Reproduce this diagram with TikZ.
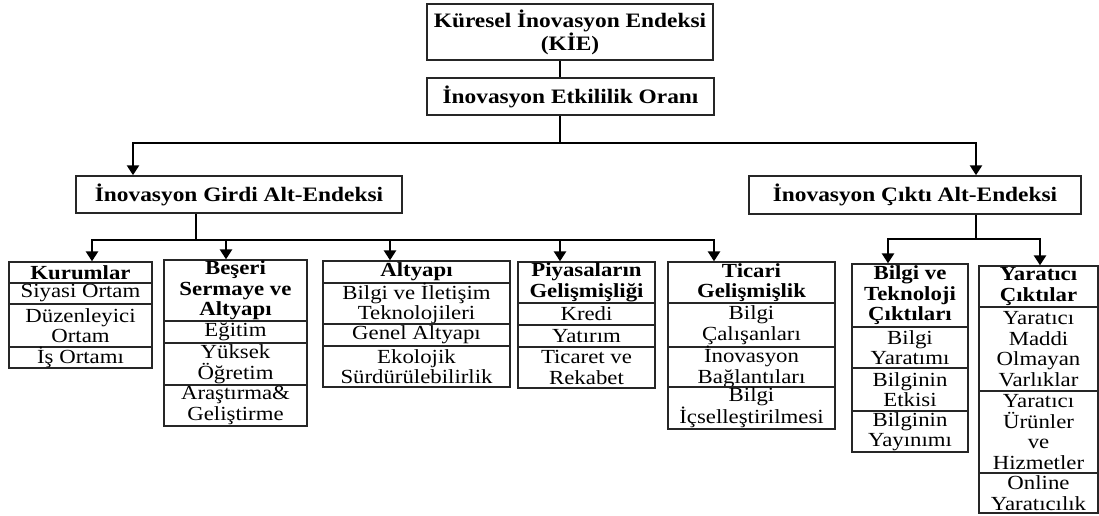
\documentclass[tikz,border=0pt]{standalone}
\usepackage{fontspec}
\setmainfont{Liberation Serif}[FakeStretch=1.14]
\usetikzlibrary{arrows.meta}
\begin{document}
\begin{tikzpicture}[x=1pt,y=-1pt,
  cell/.style={draw=black!85, line width=1.3pt, inner sep=0pt, align=center, font=\fontsize{20}{20.5}\selectfont},
  hcell/.style={cell, font=\fontsize{20}{20.5}\selectfont\bfseries},
  topbox/.style={draw=black!85, line width=1.5pt, inner sep=0pt, align=center, font=\fontsize{20.5}{23}\selectfont\bfseries},
  conn/.style={line width=2.6pt, line join=miter},
  tip/.style={-{Triangle[width=12pt,length=10pt]}},
  tips/.style={{Triangle[width=12pt,length=10pt]}-{Triangle[width=12pt,length=10pt]}}
]
\useasboundingbox[fill=white] (0,0) rectangle (1099,515);

% top nodes
\node[topbox, minimum width=286pt, minimum height=56pt] (kie) at (570,32) {Küresel İnovasyon Endeksi\\(KİE)};
\node[topbox, minimum width=287pt, minimum height=37pt] (oran) at (570.5,96.5) {İnovasyon Etkililik Oranı};
\node[topbox, minimum width=326pt, minimum height=37pt] (girdi) at (239,194.5) {İnovasyon Girdi Alt-Endeksi};
\node[topbox, minimum width=332pt, minimum height=38pt] (cikti) at (915,195) {İnovasyon Çıktı Alt-Endeksi};

% Kurumlar
\node[hcell, minimum width=143pt, minimum height=21pt] (k0) at (80.5,272.5) {Kurumlar};
\node[cell, minimum width=143pt, minimum height=21pt] (k1) at (80.5,293.5) {Siyasi Ortam};
\node[cell, minimum width=143pt, minimum height=43pt] (k2) at (80.5,325.5) {Düzenleyici\\Ortam};
\node[cell, minimum width=143pt, minimum height=21pt] (k3) at (80.5,357.5) {İş Ortamı};

% Beseri
\node[hcell, minimum width=143pt, minimum height=61pt] (b0) at (235.5,290.5) {Beşeri\\Sermaye ve\\Altyapı};
\node[cell, minimum width=143pt, minimum height=22pt] (b1) at (235.5,332) {Eğitim};
\node[cell, minimum width=143pt, minimum height=42pt] (b2) at (235.5,364) {Yüksek\\Öğretim};
\node[cell, minimum width=143pt, minimum height=41pt] (b3) at (235.5,405.5) {Araştırma\&\\Geliştirme};

% Altyapi
\node[hcell, minimum width=187pt, minimum height=22pt] (a0) at (416.5,272) {Altyapı};
\node[cell, minimum width=187pt, minimum height=41pt] (a1) at (416.5,303.5) {Bilgi ve İletişim\\Teknolojileri};
\node[cell, minimum width=187pt, minimum height=22pt] (a2) at (416.5,335) {Genel Altyapı};
\node[cell, minimum width=187pt, minimum height=41pt] (a3) at (416.5,366.5) {Ekolojik\\Sürdürülebilirlik};

% Piyasa
\node[hcell, minimum width=137pt, minimum height=41pt] (p0) at (586.5,282.5) {Piyasaların\\Gelişmişliği};
\node[cell, minimum width=137pt, minimum height=22pt] (p1) at (586.5,314) {Kredi};
\node[cell, minimum width=137pt, minimum height=22pt] (p2) at (586.5,336) {Yatırım};
\node[cell, minimum width=137pt, minimum height=41pt] (p3) at (586.5,367.5) {Ticaret ve\\Rekabet};

% Ticari
\node[hcell, minimum width=167pt, minimum height=41pt] (t0) at (751.5,282.5) {Ticari\\Gelişmişlik};
\node[cell, minimum width=167pt, minimum height=44pt] (t1) at (751.5,325) {Bilgi\\Çalışanları};
\node[cell, minimum width=167pt, minimum height=40pt] (t2) at (751.5,367) {İnovasyon\\Bağlantıları};
\node[cell, minimum width=167pt, minimum height=42pt] (t3) at (751.5,408) {Bilgi\\İçselleştirilmesi};

% Bilgi ve Teknoloji
\node[hcell, minimum width=116pt, minimum height=63pt] (g0) at (910,295.5) {Bilgi ve\\Teknoloji\\Çıktıları};
\node[cell, minimum width=116pt, minimum height=41pt] (g1) at (910,347.5) {Bilgi\\Yaratımı};
\node[cell, minimum width=116pt, minimum height=43pt] (g2) at (910,389.5) {Bilginin\\Etkisi};
\node[cell, minimum width=116pt, minimum height=41pt] (g3) at (910,431.5) {Bilginin\\Yayınımı};

% Yaratici
\node[hcell, minimum width=119pt, minimum height=41pt] (y0) at (1038.5,286.5) {Yaratıcı\\Çıktılar};
\node[cell, minimum width=119pt, minimum height=84pt] (y1) at (1038.5,349) {Yaratıcı\\Maddi\\Olmayan\\Varlıklar};
\node[cell, minimum width=119pt, minimum height=82pt] (y2) at (1038.5,432) {Yaratıcı\\Ürünler\\ve\\Hizmetler};
\node[cell, minimum width=119pt, minimum height=40pt] (y3) at (1038.5,493) {Online\\Yaratıcılık};

% bus coordinates
\coordinate (tc) at (560,143);
\coordinate (tl) at (133,143);
\coordinate (tr) at (976,143);
\coordinate (gc) at (196,240);
\coordinate (gk) at (92,240);
\coordinate (gb) at (226,240);
\coordinate (ga) at (390,240);
\coordinate (gp) at (560,240);
\coordinate (gt) at (714,240);
\coordinate (cc) at (976,239);
\coordinate (cg) at (888,239);
\coordinate (cy) at (1040,239);

% connectors
\draw[conn] (kie.south -| tc) -- (oran.north -| tc);
\draw[conn] (oran.south -| tc) -- (tc);
\draw[conn, tips] (tl |- girdi.north) -- (tl) -- (tr) -- (tr |- cikti.north);

\draw[conn] (girdi.south -| gc) -- (gc);
\draw[conn, tips] (gk |- k0.north) -- (gk) -- (gt) -- (gt |- t0.north);
\draw[conn, tip] (gb) -- (gb |- b0.north);
\draw[conn, tip] (ga) -- (ga |- a0.north);
\draw[conn, tip] (gp) -- (gp |- p0.north);

\draw[conn] (cikti.south -| cc) -- (cc);
\draw[conn, tips] (cg |- g0.north) -- (cg) -- (cy) -- (cy |- y0.north);
\end{tikzpicture}
\end{document}
